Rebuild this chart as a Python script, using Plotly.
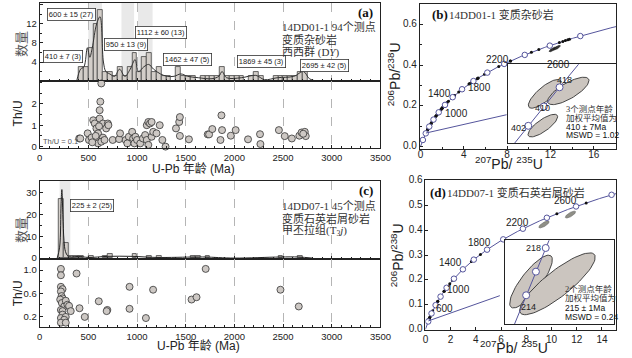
import numpy as np
import plotly.graph_objects as go

W, H = 632, 358
SANS = "Arial, Liberation Sans, Noto Sans CJK SC, sans-serif"
SERIF = "Times New Roman, Liberation Serif, Noto Sans CJK SC, serif"

# ---------------- DATA ----------------
# (a) 14DD01-1 detrital zircon ages: histogram (50 Ma bins)
a_bin_start = [400, 450, 500, 550, 600, 650, 700, 750, 800, 850, 900, 950, 1000, 1050, 1100, 1150, 1200,
               1250, 1300, 1400, 1450, 1500, 1550, 1650, 1700, 1750, 1800, 1850, 1900, 1950, 2000, 2050,
               2150, 2200, 2250, 2400, 2450, 2500, 2550, 2600, 2650, 2700]
a_counts = [3, 3, 7, 12, 15, 2, 2, 1, 3, 1, 3, 6, 2, 5, 6, 2, 3, 1, 1, 3, 1, 1, 1, 1, 1, 1, 1, 3, 1, 1,
            1, 1, 1, 2, 1, 1, 1, 1, 1, 1, 2, 3]
# probability density curve
a_pdf_age = [380, 420, 455, 490, 515, 540, 585, 620, 655, 680, 720, 770, 820, 875, 930, 980, 1015, 1070,
             1120, 1170, 1240, 1310, 1380, 1450, 1520, 1630, 1770, 1840, 1873, 1920, 2070, 2220, 2310,
             2440, 2610, 2710, 2770, 2840]
a_pdf_val = [0, 2.5, 3, 7, 5, 7, 12, 13.5, 4, 2, 1.5, 1, 2.5, 1, 2.5, 4.5, 2, 3, 3.5, 2.5, 1.5, 1, 1, 1.5,
             1, 0.7, 0.5, 1, 2, 0.7, 0.7, 1.2, 0.3, 0.7, 1, 2, 0.5, 0]
a_peak_labels = ["600 ± 15 (27)", "410 ± 7 (3)", "950 ± 13 (9)", "1112 ± 60 (13)",
                 "1462 ± 47 (5)", "1869 ± 45 (3)", "2695 ± 42 (5)"]
# Th/U vs age (a)
thu_a_age = [406, 417, 493, 506, 533, 550, 566, 583, 583, 600, 600, 616, 623, 616, 633, 650, 650, 633, 683,
             700, 666, 706, 540, 575, 610, 750, 816, 826, 883, 916, 900, 950, 960, 973, 983, 1000, 1033,
             1060, 1083, 1100, 1116, 1133, 1150, 1100, 1116, 1150, 1166, 1200, 1233, 1260, 1293, 1400,
             1433, 1440, 1440, 1533, 1726, 1740, 1773, 1867, 1857, 1873, 1963, 2013, 2140, 2263, 2267,
             2457, 2517, 2590, 2667, 2690, 2723, 2733, 2707]
thu_a_val = [0.38, 0.38, 0.62, 0.31, 0.42, 1.23, 1.08, 0.85, 0.31, 0.62, 0.15, 1.31, 2.1, 1.7, 2.95, 1.08,
             0.42, 0.23, 0.85, 1.08, 0.31, 1.0, 0.2, 0.5, 0.95, 0.31, 0.35, 0.62, 0.31, 0.46, 0.15, 0.69,
             0.38, 0.15, 0.46, 0.31, 0.15, 0.38, 0.54, 1.0, 1.15, 1.08, 1.15, 0.31, 0.08, 0.46, 0.69, 0.62,
             1.0, 0.31, 0.0, 0.85, 1.15, 1.38, 0.5, 0.34, 0.57, 0.57, 0.82, 1.46, 0.31, 0.77, 0.51, 0.77,
             0.34, 0.58, 0.12, 0.77, 0.49, 0.38, 0.51, 0.66, 0.69, 0.49, 0.6]

# (c) 14DD07-1 histogram
c_bin_start = [200, 250, 300, 350, 400, 500, 650, 700, 950, 1100, 1200, 1550, 1600, 1700, 2450, 2650]
c_counts = [27, 7, 1, 1, 1, 1, 1, 2, 2, 1, 1, 1, 1, 1, 1, 1]
c_pdf_age = [180, 205, 220, 228, 238, 250, 265, 290, 330, 400, 500, 700, 950, 1200, 1600, 1700, 2000,
             2470, 2660, 2800]
c_pdf_val = [0, 5, 25, 31.5, 20, 8, 3, 1, 0.5, 0.8, 0.3, 0.8, 0.8, 0.3, 0.5, 0.5, 0, 0.5, 0.5, 0]
c_peak_labels = ["225 ± 2 (25)"]
thu_c_age = [218, 218, 218, 235, 218, 225, 235, 211, 228, 252, 218, 235, 268, 285, 302, 319, 235, 218,
             268, 252, 218, 268, 379, 409, 463, 607, 695, 688, 923, 923, 1091, 1165, 1560, 1611, 1705,
             2473, 2661]
thu_c_val = [1.02, 0.91, 0.71, 0.67, 0.63, 0.55, 0.51, 0.49, 0.43, 0.37, 0.31, 0.29, 0.47, 0.4, 0.38, 0.29,
             0.23, 0.17, 0.19, 0.14, 0.09, 0.09, 0.94, 0.34, 0.19, 0.46, 0.31, 0.29, 0.71, 0.33, 0.17, 0.66,
             0.49, 0.53, 1.02, 0.66, 0.37]

# Concordia
conc_tick_ages = [200, 400, 600, 800, 1000, 1200, 1400, 1600, 1800, 2000, 2200, 2400, 2600, 2800]
b_label_ages = [1000, 1400, 1800, 2200, 2600]
d_label_ages = [600, 1000, 1400, 1800, 2200, 2600]
b_inset_ages = [402, 410, 418]
d_inset_ages = [214, 216, 218]
d_inset_label_ages = [214, 218]
# error ellipses (center 207Pb/235U, 206Pb/238U; semi-axes in px; tilt deg)
b_ell_x = [0.4981, 0.5159, 0.4967]
b_ell_y = [0.06654, 0.06674, 0.06436]
b_ell_a = [21, 24, 18]
b_ell_b = [7, 8, 6]
b_ell_ang = [40, 30, 35]
d_ell_x = [0.23583, 0.24241]
d_ell_y = [0.03394, 0.03391]
d_ell_a = [33, 48]
d_ell_b = [10, 13]
d_ell_ang = [52, 38]
b_disc_x = [12.2, 12.6]
b_disc_y = [0.478, 0.487]
d_disc_x = [9.4, 11.5]
d_disc_y = [0.424, 0.464]

# concordia axis tick labels
b_xticks = [0, 4, 8, 12, 16]
b_yticks = [0.0, 0.2, 0.4, 0.6]
d_xticks = [0, 2, 4, 6, 8, 10, 12, 14]
d_yticks = [0.0, 0.1, 0.2, 0.3, 0.4, 0.5, 0.6]

L238 = 1.55125e-10
L235 = 9.8485e-10


def conc(t_ma):
    t = np.asarray(t_ma, dtype=float) * 1e6
    return np.exp(L235 * t) - 1, np.exp(L238 * t) - 1


# ---------------- LAYOUT HELPERS ----------------
def xd(p0, p1):
    return [p0 / W, p1 / W]


def yd(top, bottom):
    return [1 - bottom / H, 1 - top / H]


def base_axis(domain, rng, **kw):
    d = dict(domain=domain, range=rng, showline=True, mirror=True, linecolor="#222", linewidth=1,
             zeroline=False, showgrid=False, ticks="inside", ticklen=3, tickcolor="#222",
             tickfont=dict(family=SANS, size=9.5, color="#222"))
    d.update(kw)
    return d


XA_DOM = xd(37.5, 386)
grid_kw = dict(showgrid=True, gridcolor="#b5b5b5", griddash="dash", gridwidth=0.8)

fig = go.Figure()

# ---------------- (a) histogram ----------------
bands_a = [(500, 640), (840, 970), (1010, 1160)]
shapes = []
for x0, x1 in bands_a:
    shapes.append(dict(type="rect", xref="x", yref="y", x0=x0, x1=x1, y0=0, y1=16.4,
                       fillcolor="#e9e9e9", line_width=0, layer="below"))
shapes.append(dict(type="rect", xref="x3", yref="y3", x0=205, x1=315, y0=-0.45, y1=35.45,
                   fillcolor="#e9e9e9", line_width=0, layer="below"))

fig.add_trace(go.Bar(x=[s + 25 for s in a_bin_start], y=a_counts, width=50, xaxis="x", yaxis="y",
                     marker=dict(color="#d3cec9", line=dict(color="#444", width=0.8)), showlegend=False))
fig.add_trace(go.Scatter(x=a_pdf_age, y=a_pdf_val, mode="lines", line=dict(color="#333", width=1, shape="spline"),
                         xaxis="x", yaxis="y", showlegend=False))

fig.add_trace(go.Scatter(x=thu_a_age, y=thu_a_val, mode="markers", xaxis="x2", yaxis="y2", cliponaxis=False,
                         marker=dict(size=7, color="#cdc8c4", line=dict(color="#333", width=0.8)),
                         showlegend=False))

# ---------------- (c) histogram ----------------
fig.add_trace(go.Bar(x=[s + 25 for s in c_bin_start], y=c_counts, width=50, xaxis="x3", yaxis="y3",
                     marker=dict(color="#d3cec9", line=dict(color="#444", width=0.8)), showlegend=False))
fig.add_trace(go.Scatter(x=c_pdf_age, y=c_pdf_val, mode="lines", line=dict(color="#222", width=1, shape="spline"),
                         xaxis="x3", yaxis="y3", showlegend=False))
fig.add_trace(go.Scatter(x=thu_c_age, y=thu_c_val, mode="markers", xaxis="x4", yaxis="y4", cliponaxis=False,
                         marker=dict(size=7, color="#cdc8c4", line=dict(color="#333", width=0.8)),
                         showlegend=False))

CONC_COL = "#55559c"


def ellipse(cx, cy, a, b, ang, sx, sy, n=72):
    th = np.linspace(0, 2 * np.pi, n)
    r = np.deg2rad(ang)
    u, v = a * np.cos(th), b * np.sin(th)
    return cx + (u * np.cos(r) - v * np.sin(r)) * sx, cy + (u * np.sin(r) + v * np.cos(r)) * sy


# ---------------- (b) concordia ----------------
B_X = [-0.09, 18.07]
B_Y = [-0.0146, 0.7024]
B_DOMX, B_DOMY = (426, 627), (4, 151)
bsx = (B_X[1] - B_X[0]) / (B_DOMX[1] - B_DOMX[0])
bsy = (B_Y[1] - B_Y[0]) / (B_DOMY[1] - B_DOMY[0])
cx, cy = conc(np.linspace(0, 3150, 500))
fig.add_trace(go.Scatter(x=cx, y=cy, mode="lines", line=dict(color=CONC_COL, width=1), xaxis="x5", yaxis="y5",
                         showlegend=False))
px_, py_ = conc(thu_a_age)
fig.add_trace(go.Scatter(x=px_, y=py_, mode="markers", marker=dict(size=3, color="#111"), xaxis="x5",
                         yaxis="y5", showlegend=False))
for ex, ey in zip(b_disc_x, b_disc_y):
    X, Y = ellipse(ex, ey, 4, 1.3, 30, bsx, bsy)
    fig.add_trace(go.Scatter(x=X, y=Y, mode="lines", fill="toself", fillcolor="#333", line=dict(color="#111", width=0.6),
                             xaxis="x5", yaxis="y5", showlegend=False))
tx, ty = conc(conc_tick_ages)
fig.add_trace(go.Scatter(x=tx, y=ty, mode="markers", marker=dict(size=5.5, color="white", line=dict(color=CONC_COL, width=1)),
                         xaxis="x5", yaxis="y5", showlegend=False))
# connector line to inset
x410, y410 = conc([410])
fig.add_trace(go.Scatter(x=[x410[0], 7.95], y=[y410[0], 0.156], mode="lines", line=dict(color=CONC_COL, width=1),
                         xaxis="x5", yaxis="y5", showlegend=False))
# y tick labels drawn as text marks at axis values
fig.add_trace(go.Scatter(x=[B_X[0]] * len(b_yticks), y=b_yticks, mode="text", text=[f"{v:.1f} " for v in b_yticks],
                         textposition="middle left", textfont=dict(family=SANS, size=10, color="#222"),
                         cliponaxis=False, xaxis="x5", yaxis="y5", showlegend=False))

# inset b
BI_X = [0.4701, 0.5520]
BI_Y = [0.06314, 0.06857]
BI_DOMX, BI_DOMY = (516, 627), (65, 145)
bisx = (BI_X[1] - BI_X[0]) / (BI_DOMX[1] - BI_DOMX[0])
bisy = (BI_Y[1] - BI_Y[0]) / (BI_DOMY[1] - BI_DOMY[0])
for i in range(len(b_ell_x)):
    X, Y = ellipse(b_ell_x[i], b_ell_y[i], b_ell_a[i], b_ell_b[i], b_ell_ang[i], bisx, bisy)
    fig.add_trace(go.Scatter(x=X, y=Y, mode="lines", fill="toself", fillcolor="#cbc5bf",
                             line=dict(color="#333", width=0.9), xaxis="x6", yaxis="y6", showlegend=False))
icx, icy = conc(np.linspace(380, 440, 100))
fig.add_trace(go.Scatter(x=icx, y=icy, mode="lines", line=dict(color=CONC_COL, width=1), xaxis="x6", yaxis="y6",
                         showlegend=False))
itx, ity = conc(b_inset_ages)
fig.add_trace(go.Scatter(x=itx, y=ity, mode="markers", marker=dict(size=7, color="white", line=dict(color=CONC_COL, width=1)),
                         xaxis="x6", yaxis="y6", showlegend=False))

# ---------------- (d) concordia ----------------
D_X = [0, 15.12]
D_Y = [-0.004, 0.604]
D_DOMX, D_DOMY = (432, 627), (182, 334)
dsx = (D_X[1] - D_X[0]) / (D_DOMX[1] - D_DOMX[0])
dsy = (D_Y[1] - D_Y[0]) / (D_DOMY[1] - D_DOMY[0])
cx, cy = conc(np.linspace(0, 2900, 500))
fig.add_trace(go.Scatter(x=cx, y=cy, mode="lines", line=dict(color=CONC_COL, width=1), xaxis="x7", yaxis="y7",
                         showlegend=False))
px_, py_ = conc(thu_c_age)
fig.add_trace(go.Scatter(x=px_, y=py_, mode="markers", marker=dict(size=3, color="#111"), xaxis="x7",
                         yaxis="y7", showlegend=False))
for ex, ey in zip(d_disc_x, d_disc_y):
    X, Y = ellipse(ex, ey, 6, 2, 30, dsx, dsy)
    fig.add_trace(go.Scatter(x=X, y=Y, mode="lines", fill="toself", fillcolor="#8f8f86", line=dict(color="#666", width=0.6),
                             xaxis="x7", yaxis="y7", showlegend=False))
tx, ty = conc(conc_tick_ages)
fig.add_trace(go.Scatter(x=tx, y=ty, mode="markers", marker=dict(size=5.5, color="white", line=dict(color=CONC_COL, width=1)),
                         xaxis="x7", yaxis="y7", showlegend=False))
x215, y215 = conc([215])
fig.add_trace(go.Scatter(x=[x215[0], 5.9], y=[y215[0], 0.136], mode="lines", line=dict(color=CONC_COL, width=1),
                         xaxis="x7", yaxis="y7", showlegend=False))
fig.add_trace(go.Scatter(x=[D_X[0]] * len(d_yticks), y=d_yticks, mode="text", text=[f"{v:.1f} " for v in d_yticks],
                         textposition="middle left", textfont=dict(family=SANS, size=10, color="#222"),
                         cliponaxis=False, xaxis="x7", yaxis="y7", showlegend=False))

# inset d
DI_X = [0.22926, 0.25653]
DI_Y = [0.03336, 0.03450]
DI_DOMX, DI_DOMY = (513, 625), (243, 328)
disx = (DI_X[1] - DI_X[0]) / (DI_DOMX[1] - DI_DOMX[0])
disy = (DI_Y[1] - DI_Y[0]) / (DI_DOMY[1] - DI_DOMY[0])
for i in range(len(d_ell_x)):
    X, Y = ellipse(d_ell_x[i], d_ell_y[i], d_ell_a[i], d_ell_b[i], d_ell_ang[i], disx, disy)
    fig.add_trace(go.Scatter(x=X, y=Y, mode="lines", fill="toself", fillcolor="#cbc5bf",
                             line=dict(color="#333", width=0.9), xaxis="x8", yaxis="y8", showlegend=False))
icx, icy = conc(np.linspace(200, 232, 100))
fig.add_trace(go.Scatter(x=icx, y=icy, mode="lines", line=dict(color=CONC_COL, width=1), xaxis="x8", yaxis="y8",
                         showlegend=False))
itx, ity = conc(d_inset_ages)
fig.add_trace(go.Scatter(x=itx, y=ity, mode="markers", marker=dict(size=7, color="white", line=dict(color=CONC_COL, width=1)),
                         xaxis="x8", yaxis="y8", showlegend=False))

# ---------------- AXES ----------------
minor_x = dict(dtick=100, ticklen=2, ticks="inside", tickcolor="#222")
CF = dict(family=SANS, size=10, color="#222")
layout = dict(
    width=W, height=H, margin=dict(l=0, r=0, t=0, b=0), paper_bgcolor="white", plot_bgcolor="white",
    bargap=0, showlegend=False, shapes=shapes,
    xaxis=base_axis(XA_DOM, [0, 3500], anchor="y", dtick=500, showticklabels=False, minor=minor_x, **grid_kw),
    yaxis=base_axis(yd(3, 82), [0, 16.4], anchor="x", tickvals=[4, 8, 12, 16], minor=dict(dtick=2, ticklen=2, ticks="inside")),
    xaxis2=base_axis(XA_DOM, [0, 3500], anchor="y2", dtick=500, minor=minor_x, **grid_kw),
    yaxis2=base_axis(yd(82, 150), [-0.08, 3.06], anchor="x2", tickvals=[0, 1, 2], minor=dict(dtick=0.5, ticklen=2, ticks="inside")),
    xaxis3=base_axis(XA_DOM, [0, 3500], anchor="y3", dtick=500, showticklabels=False, minor=minor_x, **grid_kw),
    yaxis3=base_axis(yd(183, 262), [-0.45, 35.45], anchor="x3", tickvals=[0, 10, 20, 30], minor=dict(dtick=5, ticklen=2, ticks="inside")),
    xaxis4=base_axis(XA_DOM, [0, 3500], anchor="y4", dtick=500, minor=minor_x, **grid_kw),
    yaxis4=base_axis(yd(262, 331), [0.01, 1.19], anchor="x4", tickvals=[0.2, 0.6, 1.0], ticktext=["0.2", "0.6", "1.0"],
                     minor=dict(dtick=0.2, ticklen=2, ticks="inside")),
    xaxis5=base_axis(xd(*B_DOMX), B_X, anchor="y5", tickvals=b_xticks, minor=dict(dtick=2, ticklen=2, ticks="inside"),
                     tickfont=CF, ticklabelstandoff=-4),
    yaxis5=base_axis(yd(*B_DOMY), B_Y, anchor="x5", tickvals=b_yticks, showticklabels=False,
                     minor=dict(dtick=0.1, ticklen=2, ticks="inside")),
    xaxis6=base_axis(xd(*BI_DOMX), BI_X, anchor="y6", showticklabels=False, ticks=""),
    yaxis6=base_axis(yd(*BI_DOMY), BI_Y, anchor="x6", showticklabels=False, ticks=""),
    xaxis7=base_axis(xd(*D_DOMX), D_X, anchor="y7", tickvals=d_xticks, tickfont=CF),
    yaxis7=base_axis(yd(*D_DOMY), D_Y, anchor="x7", tickvals=d_yticks, showticklabels=False),
    xaxis8=base_axis(xd(*DI_DOMX), DI_X, anchor="y8", showticklabels=False, ticks=""),
    yaxis8=base_axis(yd(*DI_DOMY), DI_Y, anchor="x8", showticklabels=False, ticks=""),
)
fig.update_layout(**layout)

# ---------------- ANNOTATIONS ----------------
ann = []


def ptxt(xp, yp, text, size=11, family=SANS, color="#222", angle=0, xanchor="center", **kw):
    ann.append(dict(xref="paper", yref="paper", x=xp / W, y=1 - yp / H, text=text, showarrow=False,
                    font=dict(family=family, size=size, color=color), textangle=angle, xanchor=xanchor,
                    yanchor="middle", **kw))


box = dict(bordercolor="#333", borderwidth=0.8, bgcolor="white", borderpad=1)
peak_pos_a = [(70, 15), (61, 57), (126, 45), (162, 33), (189, 60), (264, 62), (329, 66)]
for lab, (xp, yp) in zip(a_peak_labels, peak_pos_a):
    ptxt(xp, yp, lab, size=7.5, **box)
ptxt(91, 208, c_peak_labels[0], size=7.5, **box)

# panel texts a / c
ptxt(371, 13, "<b>(a)</b>", size=13, family=SERIF, color="#111")
ptxt(283, 27, "14DD01-1 94个测点", size=11, family=SERIF, color="#333", xanchor="left")
ptxt(283, 40, "变质杂砂岩", size=11, family=SERIF, color="#333", xanchor="left")
ptxt(283, 53, "西西群 (D<i>Y</i>)", size=11, family=SERIF, color="#333", xanchor="left")
ptxt(371, 193, "<b>(c)</b>", size=13, family=SERIF, color="#111")
ptxt(283, 208, "14DD07-1 45个测点", size=11, family=SERIF, color="#333", xanchor="left")
ptxt(283, 221, "变质石英岩屑砂岩", size=11, family=SERIF, color="#333", xanchor="left")
ptxt(283, 233, "甲丕拉组(T<sub>3</sub><i>j</i>)", size=11, family=SERIF, color="#333", xanchor="left")
ptxt(39, 143, "Th/U = 0.1", size=7.5, color="#555", xanchor="left")

# axis titles a / c
ptxt(19, 45, "数量", size=13, family=SERIF, color="#555", angle=-90)
ptxt(15, 115, "Th/U", size=12, angle=-90)
ptxt(195, 171, "U-Pb 年龄 (Ma)", size=12)
ptxt(19, 233, "数量", size=13, family=SERIF, color="#555", angle=-90)
ptxt(15, 297, "Th/U", size=12, angle=-90)
ptxt(200, 350, "U-Pb 年龄 (Ma)", size=12)

# concordia titles
ptxt(437, 15, "<b>(b)</b>", size=13, family=SERIF, color="#111", xanchor="left")
ptxt(454, 15, "14DD01-1 变质杂砂岩", size=11, family=SERIF, color="#333", xanchor="left")
ptxt(435, 195, "<b>(d)</b>", size=13, family=SERIF, color="#111", xanchor="left")
ptxt(452, 195, "14DD07-1 变质石英岩屑砂岩", size=11, family=SERIF, color="#333", xanchor="left")
ptxt(517, 165, "<sup>207</sup>Pb/ <sup>235</sup>U", size=14)
ptxt(523, 351, "<sup>207</sup>Pb/ <sup>235</sup>U", size=14)
ptxt(400, 75, "<sup>206</sup>Pb/<sup>238</sup>U", size=14, angle=-90)
ptxt(403, 258, "<sup>206</sup>Pb/<sup>238</sup>U", size=14, angle=-90)

# inset texts
for i, t in enumerate(["3个测点年龄", "加权平均值为", "410 ± 7Ma", "MSWD = 1.02"]):
    ptxt(574, 110 + i * 9, t, size=8.5, color="#333" if i < 2 else "#111", xanchor="left",
         family=SERIF if i < 2 else SANS)
for i, t in enumerate(["2个测点年龄", "加权平均值为", "215 ± 1Ma", "MSWD = 0.24"]):
    ptxt(573, 292 + i * 9.5, t, size=8.5, color="#333" if i < 2 else "#111", xanchor="left",
         family=SERIF if i < 2 else SANS)

# concordia age labels
b_shift = {1000: (17.5, -1.5), 1400: (-13, 3.3), 1800: (6, -6), 2200: (-6.5, 4.6), 2600: (9, -19)}
lx, ly = conc(b_label_ages)
for age, x, y in zip(b_label_ages, lx, ly):
    sx, sy = b_shift[age]
    ann.append(dict(xref="x5", yref="y5", x=x, y=y, text=str(age), showarrow=False, xshift=sx, yshift=sy,
                    font=dict(family=SANS, size=10, color="#222")))
d_shift = {600: (8.6, -3.4), 1000: (12.4, -2), 1400: (-12, 6.4), 1800: (-7.5, 7.5), 2200: (-5, 6), 2600: (-11, 6)}
lx, ly = conc(d_label_ages)
for age, x, y in zip(d_label_ages, lx, ly):
    sx, sy = d_shift[age]
    ann.append(dict(xref="x7", yref="y7", x=x, y=y, text=str(age), showarrow=False, xshift=sx, yshift=sy,
                    font=dict(family=SANS, size=10, color="#222")))
bi_shift = {402: (-10, -2), 410: (-1, -1.5), 418: (5, 7)}
lx, ly = conc(b_inset_ages)
for age, x, y in zip(b_inset_ages, lx, ly):
    sx, sy = bi_shift[age]
    ann.append(dict(xref="x6", yref="y6", x=x, y=y, text=str(age), showarrow=False, xshift=sx, yshift=sy,
                    font=dict(family=SANS, size=9, color="#222")))
di_shift = {214: (2, -12), 218: (-12, 0)}
lx, ly = conc(d_inset_label_ages)
for age, x, y in zip(d_inset_label_ages, lx, ly):
    sx, sy = di_shift[age]
    ann.append(dict(xref="x8", yref="y8", x=x, y=y, text=str(age), showarrow=False, xshift=sx, yshift=sy,
                    font=dict(family=SANS, size=9, color="#222")))

fig.update_layout(annotations=ann)
fig.write_html("out.html", config={"displayModeBar": False},
               post_script="document.body.style.margin='0';document.body.style.padding='0';"
                           "document.documentElement.style.overflow='hidden';")
